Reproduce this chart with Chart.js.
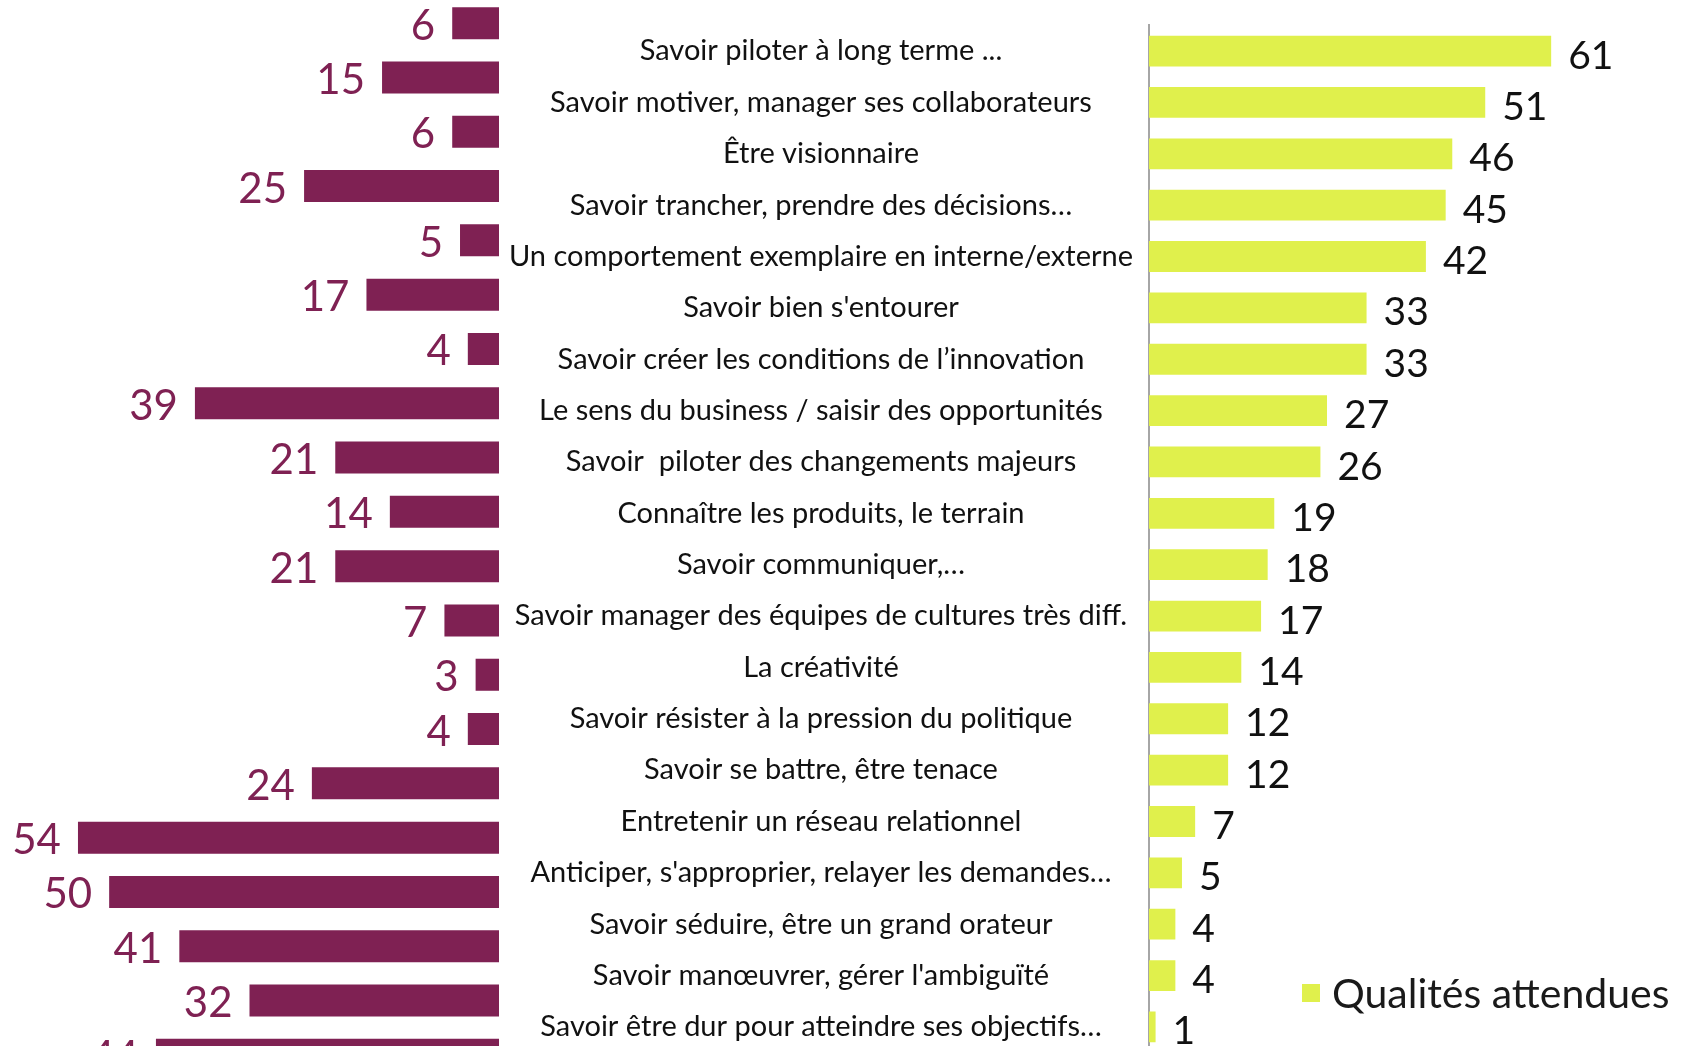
<!DOCTYPE html>
<html><head><meta charset="utf-8">
<script src="https://cdn.jsdelivr.net/npm/chart.js@4.4.1/dist/chart.umd.min.js"></script>
<style>
html,body{margin:0;padding:0;background:#fff;width:1691px;height:1046px;overflow:hidden;position:relative;font-family:Lato,sans-serif;}
#wl{position:absolute;left:0;top:-4px;width:499px;height:1086px;}
#wr{position:absolute;left:440px;top:0;width:1251px;height:1078px;}
#legend{position:absolute;left:1302px;top:968px;font-size:41px;color:#1a1a1a;display:flex;align-items:center;}
#legend span.sw{display:inline-block;width:18px;height:18px;background:#E0F04C;margin-right:12px;}
</style></head>
<body>
<div id="wl"><canvas id="cl"></canvas></div>
<div id="wr"><canvas id="cr"></canvas></div>
<div id="legend"><span class="sw"></span><span>Qualités attendues</span></div>
<script>
const categories = [
  "Savoir piloter à long terme ...",
  "Savoir motiver, manager ses collaborateurs",
  "Être visionnaire",
  "Savoir trancher, prendre des décisions…",
  "Un comportement exemplaire en interne/externe",
  "Savoir bien s'entourer",
  "Savoir créer les conditions de l’innovation",
  "Le sens du business / saisir des opportunités",
  "Savoir  piloter des changements majeurs",
  "Connaître les produits, le terrain",
  "Savoir communiquer,…",
  "Savoir manager des équipes de cultures très diff.",
  "La créativité",
  "Savoir résister à la pression du politique",
  "Savoir se battre, être tenace",
  "Entretenir un réseau relationnel",
  "Anticiper, s'approprier, relayer les demandes…",
  "Savoir séduire, être un grand orateur",
  "Savoir manœuvrer, gérer l'ambiguïté",
  "Savoir être dur pour atteindre ses objectifs…"
];
const qualitesAttendues = [61,51,46,45,42,33,33,27,26,19,18,17,14,12,12,7,5,4,4,1];
const serieGauche = [6,15,6,25,5,17,4,39,21,14,21,7,3,4,24,54,50,41,32,44];

const MAGENTA = '#7F2153';
const GREEN = '#E0F04C';
const FONT = 'Lato, sans-serif';

const leftLabels = {
  id:'leftLabels',
  afterDatasetsDraw(chart){
    const ctx = chart.ctx;
    const meta = chart.getDatasetMeta(0);
    ctx.save();
    ctx.font = '42px ' + FONT;
    ctx.fillStyle = MAGENTA;
    ctx.textAlign = 'right';
    ctx.textBaseline = 'middle';
    meta.data.forEach((bar,i)=>{
      ctx.fillText(String(chart.data.datasets[0].data[i]), bar.x - 17, bar.y + 3);
    });
    ctx.restore();
  }
};
const rightLabels = {
  id:'rightLabels',
  afterDatasetsDraw(chart){
    const ctx = chart.ctx;
    const meta = chart.getDatasetMeta(0);
    ctx.save();
    ctx.font = '39px ' + FONT;
    ctx.fillStyle = '#111';
    ctx.textAlign = 'left';
    ctx.textBaseline = 'middle';
    meta.data.forEach((bar,i)=>{
      ctx.fillText(String(chart.data.datasets[0].data[i]), bar.x + 17, bar.y + 5);
    });
    ctx.restore();
  }
};

new Chart(document.getElementById('cl'), {
  type:'bar',
  data:{labels:categories, datasets:[{label:'Série gauche', data:serieGauche, backgroundColor:MAGENTA, barPercentage:0.59, categoryPercentage:1}]},
  options:{
    indexAxis:'y', responsive:true, maintainAspectRatio:false, animation:false,
    layout:{padding:0},
    plugins:{legend:{display:false}, tooltip:{enabled:false}},
    scales:{
      x:{reverse:true, min:0, max:64, display:false},
      y:{display:false}
    }
  },
  plugins:[leftLabels]
});

new Chart(document.getElementById('cr'), {
  type:'bar',
  data:{labels:categories, datasets:[{label:'Qualités attendues', data:qualitesAttendues, backgroundColor:GREEN, barPercentage:0.6, categoryPercentage:1}]},
  options:{
    indexAxis:'y', responsive:true, maintainAspectRatio:false, animation:false,
    layout:{padding:{top:25, right:6, left:0, bottom:0}},
    plugins:{legend:{display:false}, tooltip:{enabled:false}},
    scales:{
      x:{min:0, max:81.3, display:false},
      y:{
        afterFit(scale){ scale.width = 709; },
        grid:{display:false},
        border:{display:true, color:'#A6A6A6', width:2},
        ticks:{crossAlign:'center', padding:8, color:'#111', font:{family:FONT, size:29}, autoSkip:false}
      }
    }
  },
  plugins:[rightLabels]
});
</script>
</body></html>
